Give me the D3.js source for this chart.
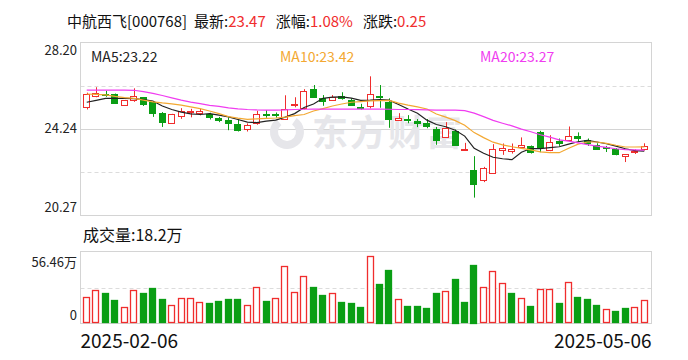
<!DOCTYPE html>
<html>
<head>
<meta charset="utf-8">
<script src="https://cdn.jsdelivr.net/npm/d3@7/dist/d3.min.js"></script>
<style>
  body { margin: 0; background: #fff; }
  text { font-family: "Microsoft YaHei", "Noto Sans CJK SC", sans-serif; }
</style>
</head>
<body>
<svg id="chart" width="688" height="360"></svg>
<script>
// daily candles, 2025-02-06 .. 2025-05-06
var opens  = [25.23, 25.78, 25.85, 25.84, 25.35, 25.56, 25.69, 25.47, 24.95, 24.52,
              24.79, 25.00, 24.99, 24.90, 24.72, 24.64, 24.47, 24.21, 24.52, 24.92,
              24.93, 24.70, 25.32, 25.23, 26.07, 25.65, 25.56, 25.73, 25.58, 25.25,
              25.27, 25.73, 25.48, 24.66, 24.69, 24.60, 24.49, 24.24, 23.87, 24.15,
              23.28, 22.37, 21.91, 22.25, 23.28, 23.23, 23.41, 23.44, 24.10, 23.25,
              23.68, 23.74, 23.91, 23.71, 23.52, 23.41, 23.34, 23.00, 23.18, 23.32];
var closes = [25.84, 25.90, 25.82, 25.44, 25.56, 25.75, 25.35, 24.98, 24.52, 24.92,
              25.04, 25.05, 25.06, 24.78, 24.64, 24.52, 24.18, 24.40, 24.92, 24.89,
              24.90, 25.16, 25.38, 25.99, 25.70, 25.53, 25.69, 25.64, 25.36, 25.21,
              25.82, 25.67, 24.72, 24.73, 24.63, 24.50, 24.37, 23.72, 24.27, 23.51,
              23.34, 21.73, 22.47, 23.34, 23.36, 23.31, 23.49, 23.15, 23.41, 23.62,
              23.60, 23.92, 23.83, 23.55, 23.34, 23.35, 23.09, 23.07, 23.22, 23.47];
var lows   = [25.13, 25.69, 25.71, 25.38, 25.32, 25.48, 25.29, 24.79, 24.33, 24.49,
              24.70, 24.77, 24.86, 24.67, 24.55, 24.18, 24.12, 24.12, 24.43, 24.75,
              24.75, 24.67, 25.23, 25.13, 25.67, 25.30, 25.52, 25.58, 25.30, 25.12,
              25.18, 25.21, 24.29, 24.63, 24.50, 24.32, 24.27, 23.51, 23.85, 23.49,
              23.28, 21.09, 21.80, 22.22, 23.05, 23.11, 23.32, 23.11, 23.17, 23.22,
              23.46, 23.68, 23.64, 23.46, 23.28, 23.18, 23.03, 22.72, 23.09, 23.25];
var highs  = [25.90, 26.15, 25.99, 25.86, 25.57, 26.10, 25.70, 25.49, 25.01, 24.93,
              25.19, 25.16, 25.16, 24.98, 24.79, 24.77, 24.67, 24.49, 25.07, 25.10,
              24.99, 25.78, 25.69, 26.06, 26.25, 25.79, 25.79, 25.92, 25.64, 25.39,
              26.65, 26.25, 25.64, 24.96, 24.87, 24.69, 24.69, 24.33, 24.55, 24.21,
              23.60, 22.99, 22.50, 23.54, 23.57, 23.57, 23.85, 23.48, 24.15, 23.95,
              23.80, 24.35, 24.08, 23.80, 23.58, 23.46, 23.36, 23.08, 23.30, 23.58];
// volume in 万
var volumes = [20.5, 26.0, 23.9, 18.4, 12.6, 26.0, 23.9, 27.8, 19.2, 14.2,
               19.7, 19.7, 16.5, 16.0, 17.6, 19.2, 19.2, 14.2, 28.4, 17.6,
               19.7, 44.9, 24.4, 37.0, 28.6, 22.3, 23.6, 16.8, 16.0, 12.9,
               52.8, 31.0, 42.0, 18.9, 13.7, 13.7, 12.1, 23.9, 25.2, 34.9,
               16.8, 46.0, 28.4, 41.0, 31.5, 23.9, 19.7, 13.7, 26.8, 26.8,
               16.0, 32.3, 20.7, 19.2, 14.4, 11.0, 9.7, 12.1, 12.6, 18.2];
var ma5  = [25.46, 25.55, 25.64, 25.64, 25.64, 25.63, 25.58, 25.52, 25.29, 25.13,
            25.01, 24.93, 24.90, 24.94, 24.87, 24.79, 24.67, 24.55, 24.53, 24.60,
            24.64, 24.78, 24.94, 25.22, 25.38, 25.64, 25.70, 25.71, 25.65, 25.55,
            25.56, 25.58, 25.56, 25.36, 25.15, 24.96, 24.64, 24.44, 24.34, 24.18,
            23.91, 23.35, 23.12, 22.94, 22.87, 22.83, 23.17, 23.34, 23.34, 23.38,
            23.42, 23.54, 23.65, 23.71, 23.64, 23.56, 23.45, 23.33, 23.24, 23.22];
var ma10 = [25.84, 25.82, 25.80, 25.73, 25.67, 25.64, 25.56, 25.48, 25.43, 25.39,
            25.33, 25.25, 25.17, 25.06, 24.94, 24.80, 24.73, 24.68, 24.70, 24.72,
            24.74, 24.78, 24.85, 24.90, 25.06, 25.17, 25.29, 25.38, 25.46, 25.49,
            25.52, 25.54, 25.55, 25.42, 25.33, 25.25, 25.15, 24.92, 24.78, 24.62,
            24.41, 24.07, 23.84, 23.63, 23.51, 23.42, 23.35, 23.28, 23.19, 23.15,
            23.15, 23.35, 23.54, 23.64, 23.64, 23.58, 23.49, 23.41, 23.41, 23.42];
var ma20 = [26.02, 26.02, 26.02, 26.02, 26.02, 26.01, 25.95, 25.87, 25.77, 25.66,
            25.56, 25.47, 25.40, 25.32, 25.27, 25.20, 25.16, 25.13, 25.11, 25.10,
            25.10, 25.11, 25.13, 25.14, 25.15, 25.15, 25.15, 25.15, 25.15, 25.15,
            25.15, 25.15, 25.14, 25.13, 25.13, 25.12, 25.11, 25.10, 25.10, 25.10,
            25.08, 24.96, 24.80, 24.63, 24.50, 24.38, 24.23, 24.11, 23.97, 23.86,
            23.74, 23.68, 23.60, 23.52, 23.45, 23.39, 23.33, 23.29, 23.28, 23.27];
var priceTicks = [20.27, 24.24, 28.20];
var volumeTicks = [0, 56.46];
var dateLabels = ["2025-02-06", "2025-05-06"];
var stockName = "中航西飞[000768]";
var volumeLabel = 18.2;

var upColor = "#f02d2d",
    downColor = "#0a9e14",
    gridColor = "#d4d4d4",
    maColors = ["#222222", "#f3a832", "#f03cf0"];

var svg = d3.select("#chart");

var left = 80.5, right = 651.5,
    priceTop = 42.5, priceBottom = 215.5,
    volTop = 251.5, volBottom = 323.5;

var x = d3.scaleBand()
    .domain(d3.range(closes.length))
    .range([82, 649])
    .paddingInner(0.22)
    .paddingOuter(0.11);

var y = d3.scaleLinear()
    .domain([priceTicks[0], priceTicks[2]])
    .range([priceBottom, priceTop]);

var yv = d3.scaleLinear()
    .domain([0, volumeTicks[1]])
    .range([volBottom, volTop]);

function cx(i) { return Math.round(x(i) + x.bandwidth() / 2) + 0.5; }

// title
var change = closes[closes.length - 1] - closes[closes.length - 2];
var title = svg.append("text")
    .attr("x", 67)
    .attr("y", 27)
    .attr("font-size", 15)
    .attr("fill", "#111");
title.append("tspan").text(stockName);
title.append("tspan").attr("dx", 7).text("最新:");
title.append("tspan").attr("fill", upColor).text(closes[closes.length - 1].toFixed(2));
title.append("tspan").attr("dx", 10).text("涨幅:");
title.append("tspan").attr("fill", upColor)
    .text((change / closes[closes.length - 2] * 100).toFixed(2) + "%");
title.append("tspan").attr("dx", 10).text("涨跌:");
title.append("tspan").attr("fill", upColor).text(change.toFixed(2));

// price frame and grid
var q = (priceBottom - priceTop) / 4;
[1, 3].forEach(function (k) {
  svg.append("line")
    .attr("x1", left).attr("x2", right)
    .attr("y1", Math.round(priceTop + q * k) + 0.5)
    .attr("y2", Math.round(priceTop + q * k) + 0.5)
    .attr("stroke", "#dcdcdc")
    .attr("stroke-dasharray", "4,3");
});
svg.append("line")
  .attr("x1", left).attr("x2", right)
  .attr("y1", Math.round(y(priceTicks[1])) + 0.5)
  .attr("y2", Math.round(y(priceTicks[1])) + 0.5)
  .attr("stroke", gridColor);
svg.append("rect")
  .attr("x", left).attr("y", priceTop)
  .attr("width", right - left).attr("height", priceBottom - priceTop)
  .attr("fill", "none").attr("stroke", gridColor);

// watermark
var wm = svg.append("g").attr("fill", "#e6e6ea");
wm.append("path")
  .attr("d", d3.arc().innerRadius(9).outerRadius(17).startAngle(0.6).endAngle(5.6)())
  .attr("transform", "translate(287,132)");
wm.append("text")
  .attr("x", 312).attr("y", 146)
  .attr("font-size", 36)
  .attr("font-weight", "bold")
  .attr("letter-spacing", 2)
  .text("东方财富");

// price axis labels
svg.selectAll("text.price-tick")
  .data(priceTicks)
  .enter().append("text")
  .attr("class", "price-tick")
  .attr("x", 77)
  .attr("y", function (d, i) { return y(d) + [ -4, 4, 12 ][i]; })
  .attr("text-anchor", "end")
  .attr("font-size", 13)
  .attr("fill", "#222")
  .text(function (d) { return d.toFixed(2); });

// candles
var candles = svg.selectAll("g.candle")
  .data(closes)
  .enter().append("g")
  .attr("class", "candle");

candles.append("line")
  .attr("x1", function (d, i) { return cx(i); })
  .attr("x2", function (d, i) { return cx(i); })
  .attr("y1", function (d, i) { return y(highs[i]); })
  .attr("y2", function (d, i) { return y(lows[i]); })
  .attr("stroke", function (d, i) { return d >= opens[i] ? upColor : downColor; });

candles.append("rect")
  .attr("x", function (d, i) { return Math.round(x(i)) + 0.5; })
  .attr("width", Math.round(x.bandwidth()) - 1)
  .attr("y", function (d, i) { return Math.round(y(Math.max(d, opens[i]))) + 0.5; })
  .attr("height", function (d, i) {
    return Math.max(1, Math.round(Math.abs(y(d) - y(opens[i]))));
  })
  .attr("fill", function (d, i) { return d >= opens[i] ? "#fff" : downColor; })
  .attr("stroke", function (d, i) { return d >= opens[i] ? upColor : downColor; });

// moving averages
[ma5, ma10, ma20].forEach(function (series, k) {
  svg.append("path")
    .datum(series)
    .attr("fill", "none")
    .attr("stroke", maColors[k])
    .attr("stroke-width", 1.2)
    .attr("d", d3.line()
      .x(function (d, i) { return x(i) + x.bandwidth() / 2; })
      .y(function (d) { return y(d); }));
});

var maLabels = [["MA5:", ma5, 91], ["MA10:", ma10, 280], ["MA20:", ma20, 480]];
maLabels.forEach(function (m, k) {
  svg.append("text")
    .attr("x", m[2]).attr("y", 62)
    .attr("font-size", 14)
    .attr("fill", maColors[k])
    .text(m[0] + m[1][m[1].length - 1].toFixed(2));
});

// volume panel
svg.append("text")
  .attr("x", 83).attr("y", 241)
  .attr("font-size", 16)
  .attr("fill", "#111")
  .text("成交量:" + volumeLabel + "万");

svg.append("line")
  .attr("x1", left).attr("x2", right)
  .attr("y1", Math.round(yv(volumeTicks[1] / 2)) + 0.5)
  .attr("y2", Math.round(yv(volumeTicks[1] / 2)) + 0.5)
  .attr("stroke", "#dcdcdc")
  .attr("stroke-dasharray", "4,3");
svg.append("rect")
  .attr("x", left).attr("y", volTop)
  .attr("width", right - left).attr("height", volBottom - volTop)
  .attr("fill", "none").attr("stroke", gridColor);

function volUp(i) {
  return i === 0 ? closes[0] >= opens[0] : closes[i] >= closes[i - 1];
}

svg.selectAll("rect.vol")
  .data(volumes)
  .enter().append("rect")
  .attr("class", "vol")
  .attr("x", function (d, i) { return Math.round(x(i)) + 0.5; })
  .attr("width", Math.round(x.bandwidth()) - 1)
  .attr("y", function (d) { return Math.round(yv(d)) + 0.5; })
  .attr("height", function (d) { return Math.round(yv(0) - yv(d)) - 1; })
  .attr("fill", function (d, i) { return volUp(i) ? "#fff" : downColor; })
  .attr("stroke", function (d, i) { return volUp(i) ? upColor : downColor; })
  .attr("stroke-width", 1.3);

svg.selectAll("text.vol-tick")
  .data(volumeTicks)
  .enter().append("text")
  .attr("class", "vol-tick")
  .attr("x", 77)
  .attr("y", function (d, i) { return yv(d) + [ -4, 15 ][i]; })
  .attr("text-anchor", "end")
  .attr("font-size", 13)
  .attr("fill", "#222")
  .text(function (d) { return d === 0 ? "0" : d.toFixed(2) + "万"; });

// date labels
svg.selectAll("text.date")
  .data(dateLabels)
  .enter().append("text")
  .attr("class", "date")
  .attr("x", function (d, i) { return i === 0 ? left : right; })
  .attr("y", 348)
  .attr("text-anchor", function (d, i) { return i === 0 ? "start" : "end"; })
  .attr("font-size", 19)
  .attr("fill", "#111")
  .text(function (d) { return d; });
</script>
</body>
</html>
